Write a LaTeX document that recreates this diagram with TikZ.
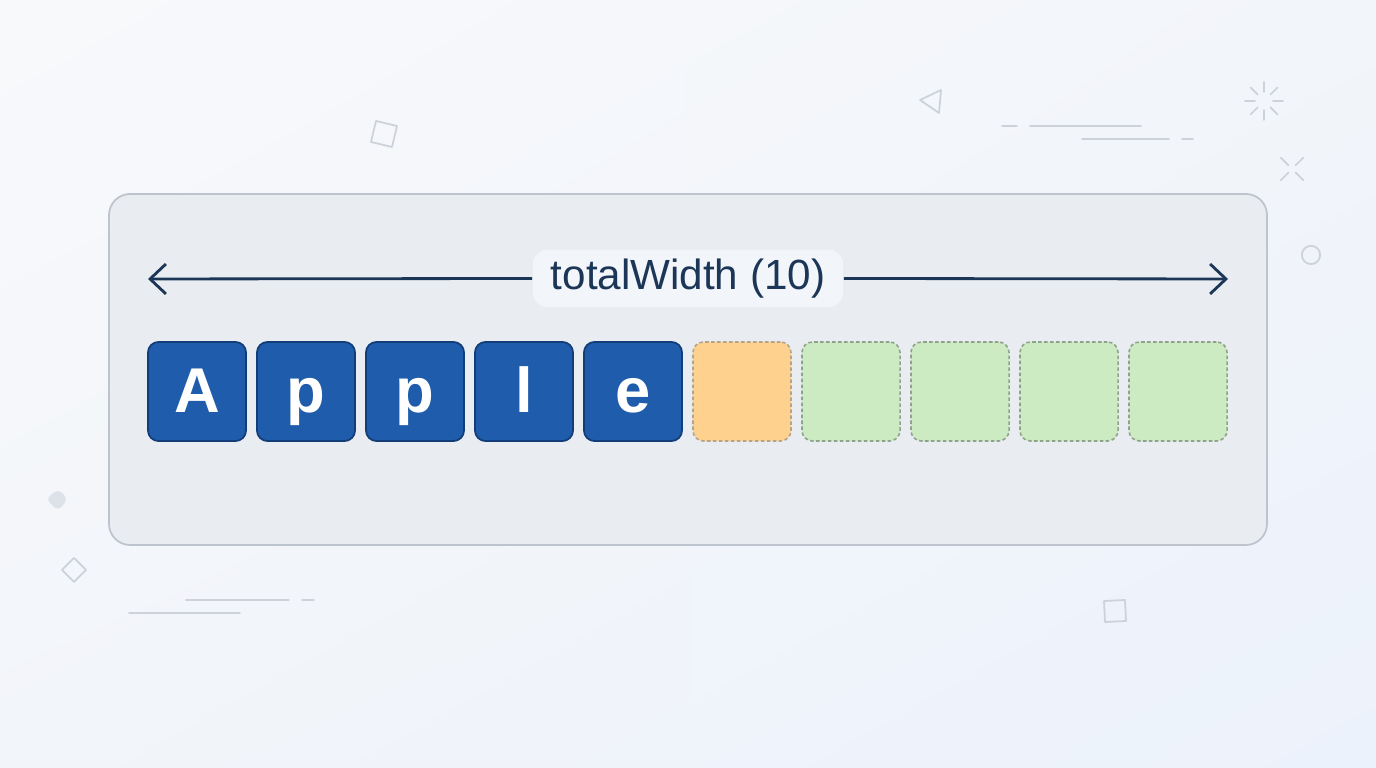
\documentclass[tikz,border=0pt]{standalone}
\usepackage{fontspec}
\setmainfont{Liberation Sans}
\usetikzlibrary{arrows.meta,shadings}
\definecolor{bgTop}{HTML}{F8F9FB}
\definecolor{bgMid}{HTML}{F2F5FA}
\definecolor{bgLow}{HTML}{ECF2FB}
\definecolor{panelFill}{HTML}{E9ECF1}
\definecolor{panelEdge}{HTML}{BEC4CD}
\definecolor{navy}{HTML}{1C3658}
\definecolor{labelFill}{HTML}{F2F5F9}
\definecolor{cellBlue}{HTML}{1F5DAC}
\definecolor{cellEdge}{HTML}{123D78}
\definecolor{padOrange}{HTML}{FFD18F}
\definecolor{padOrangeEdge}{HTML}{B5A48C}
\definecolor{padGreen}{HTML}{CCEBC2}
\definecolor{padGreenEdge}{HTML}{8FA38C}
\definecolor{decoCol}{HTML}{CDD2DA}
\definecolor{blobCol}{HTML}{DCE2EA}
\begin{document}
\begin{tikzpicture}[x=0.01cm, y=-0.01cm,
    cell/.style={rounded corners=3pt, minimum width=0.98cm, minimum height=0.99cm,
                 inner sep=0pt, line width=0.5pt},
    letterbox/.style={cell, fill=cellBlue, draw=cellEdge, text=white,
                 font=\fontsize{18}{20}\selectfont\bfseries, text height=16pt, text depth=3.8pt},
    padbox/.style={cell, line width=0.45pt, dash pattern=on 1pt off 0.7pt},
    dimline/.style={navy, line width=0.8pt, -{Straight Barb[length=4.5pt,width=8.5pt]}},
    deco/.style={draw=decoCol, line width=0.5pt, line cap=round, line join=round}]
    \useasboundingbox (0,0) rectangle (1376,768);
    % === Sfondo ===
    \shade[upper left=bgTop, upper right=bgMid, lower left=bgMid, lower right=bgLow]
        (0,0) rectangle (1376,768);
    % Decorazioni
    \draw[deco] (376,121) -- (397,126) -- (392,147) -- (371,142) -- cycle;
    \draw[deco] (920,100) -- (941,90) -- (939,113) -- cycle;
    \draw[deco] (1002,126) -- (1017,126);
    \draw[deco] (1030,126) -- (1141,126);
    \draw[deco] (1082,139) -- (1169,139);
    \draw[deco] (1182,139) -- (1193,139);
    \begin{scope}[shift={(1264,101)}]
        \foreach \a in {0,45,...,315}
            \draw[deco] (\a:9) -- (\a:19);
    \end{scope}
    \begin{scope}[shift={(1292,169)}]
        \foreach \a in {45,135,225,315}
            \draw[deco] (\a:5) -- (\a:16);
    \end{scope}
    \draw[deco] (1311,255) circle (2.6pt);
    \fill[blobCol, rounded corners=1.5pt] (46,499) -- (58,489) -- (68,499) -- (58,511) -- cycle;
    \draw[deco] (74,558) -- (86,570) -- (74,582) -- (62,570) -- cycle;
    \draw[deco] (186,600) -- (289,600);
    \draw[deco] (302,600) -- (314,600);
    \draw[deco] (129,613) -- (240,613);
    \draw[deco] (1104,601) -- (1125,600) -- (1126,621) -- (1105,622) -- cycle;
    % === Pannello ===
    \draw[rounded corners=6pt, fill=panelFill, draw=panelEdge, line width=0.5pt]
        (109,194) rectangle (1267,545);
    % Quota larghezza
    \node[fill=labelFill, rounded corners=4pt, minimum width=3.1cm, minimum height=0.57cm,
          inner ysep=0pt, text height=9.5pt, text depth=3pt,
          text=navy, font=\fontsize{12}{14}\selectfont] (lbl) at (688,278.5) {totalWidth (10)};
    \coordinate (wl) at (148,279);
    \coordinate (wr) at (1228,279);
    \draw[dimline] (lbl.west) -- (wl);
    \draw[dimline] (lbl.east) -- (wr);
    % Celle con lettere
    \foreach \ch [count=\i from 0] in {A,p,p,l,e}
        \node[letterbox] (c\i) at (197+109*\i,391.5) {\ch};
    % Cella arancione
    \node[padbox, fill=padOrange, draw=padOrangeEdge] (c5) at (742,391.5) {};
    % Celle verdi
    \foreach \i in {6,...,9}
        \node[padbox, fill=padGreen, draw=padGreenEdge] (c\i) at (197+109*\i,391.5) {};
\end{tikzpicture}
\end{document}
